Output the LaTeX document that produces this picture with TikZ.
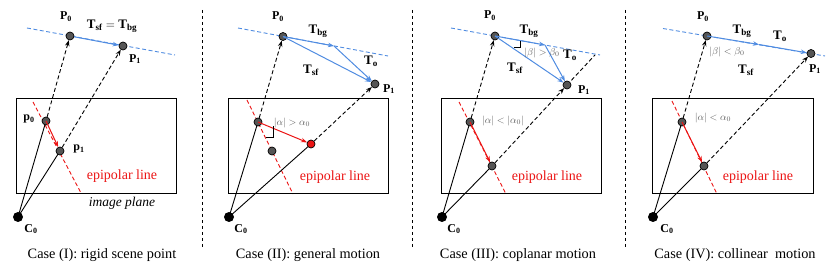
\documentclass[tikz,border=0pt]{standalone}
\usepackage{fontspec}
\setmainfont{Liberation Serif}
\usetikzlibrary{arrows.meta}
\pgfdeclarelayer{bg}
\pgfsetlayers{bg,main}
\definecolor{ptgray}{RGB}{85,85,85}
\definecolor{bl}{RGB}{80,140,225}
\definecolor{rd}{RGB}{235,20,20}
\definecolor{lbl}{RGB}{95,95,95}
\tikzset{
  pt/.style={circle,draw=black,fill=ptgray,inner sep=0pt,minimum size=8pt,line width=0.7pt},
  redpt/.style={circle,draw=black,fill=rd,inner sep=0pt,minimum size=8pt,line width=0.7pt},
  cam/.style={circle,fill=black,inner sep=0pt,minimum size=10pt},
  ray/.style={draw=black,line width=0.9pt},
  back/.style={draw=black,line width=0.9pt,dash pattern=on 4pt off 2.5pt,-{Stealth[length=6pt,width=4.5pt]}},
  backx/.style={draw=black,line width=0.9pt,dash pattern=on 4pt off 2.5pt},
  epi/.style={draw=rd,line width=0.9pt,dash pattern=on 4pt off 2.5pt},
  flow/.style={draw=rd,line width=1pt,-{Stealth[length=6pt,width=4.5pt]}},
  blu/.style={draw=bl,line width=1pt,-{Stealth[length=6pt,width=4.5pt]}},
  bludash/.style={draw=bl,line width=0.9pt,dash pattern=on 4pt off 2.5pt},
  plane/.style={draw=black,line width=0.9pt},
  sep/.style={draw=black,line width=0.9pt,dash pattern=on 3.5pt off 2.5pt},
  lab/.style={inner sep=0pt,font=\fontsize{12}{12}\selectfont},
  tlab/.style={inner sep=0pt,font=\fontsize{13}{13}\selectfont},
  glab/.style={inner sep=0pt,text=lbl,font=\fontsize{10}{10}\selectfont},
  epitxt/.style={inner sep=0pt,text=rd,font=\fontsize{14}{14}\selectfont},
  captxt/.style={inner sep=0pt,font=\fontsize{14.3}{14.3}\selectfont},
}
\begin{document}
\begin{tikzpicture}[x=1pt,y=-1pt]
\useasboundingbox (0,0) rectangle (831,267);
% separators
\coordinate (s1a) at (202,10); \coordinate (s1b) at (202,247);
\coordinate (s2a) at (412,10); \coordinate (s2b) at (412,247);
\coordinate (s3a) at (625,10); \coordinate (s3b) at (625,247);
\draw[sep] (s1a) -- (s1b);
\draw[sep] (s2a) -- (s2b);
\draw[sep] (s3a) -- (s3b);

%%%%%%%% Panel I
\node[plane,minimum width=160pt,minimum height=95pt,inner sep=0pt] (imgA) at (96,145.5) {};
\coordinate (bA1) at (27,28); \coordinate (bA2) at (175,55);
\coordinate (eA1) at (33,102); \coordinate (eA2) at (81,193);
\node[pt] (P0a) at (70,36) {};
\node[pt] (P1a) at (123,46) {};
\node[pt] (p0a) at (46,121) {};
\node[pt] (p1a) at (60,151) {};
\node[cam] (Ca) at (18,217) {};
\begin{pgfonlayer}{bg}
\draw[bludash] (bA1) -- (bA2);
\draw[epi] (eA1) -- (eA2);
\draw[ray] (Ca.center) -- (p0a.center);
\draw[ray] (Ca.center) -- (p1a.center);
\end{pgfonlayer}
\draw[back] (p0a) -- (P0a);
\draw[back] (p1a) -- (P1a);
\draw[blu] (P0a) -- (P1a);
\draw[flow] (p0a.center) -- (p1a);
\node[lab] (lP0a) at (66,17) {$\mathbf{P_0}$};
\node[tlab] (lTa) at (112,26) {$\mathbf{T_{sf}}=\mathbf{T_{bg}}$};
\node[lab] (lP1a) at (135,59) {$\mathbf{P_1}$};
\node[lab] (lp0a) at (29,119) {$\mathbf{p_0}$};
\node[lab] (lp1a) at (79,149) {$\mathbf{p_1}$};
\node[lab] (lCa) at (31,229) {$\mathbf{C_0}$};
\node[epitxt] (epA) at (122,176) {epipolar line};
\node[inner sep=0pt,font=\fontsize{13.5}{13.5}\selectfont\itshape] (ipA) at (122,203) {image plane};
\node[captxt] (capA) at (102,255) {Case (I): rigid scene point};

%%%%%%%% Panel II
\node[plane,minimum width=160pt,minimum height=95pt,inner sep=0pt] (imgB) at (308,145.5) {};
\coordinate (bB1) at (238,28); \coordinate (bB2) at (388,56);
\coordinate (eB1) at (247,100); \coordinate (eB2) at (293,194);
\coordinate (kB) at (334,46);
\coordinate (mB1) at (266,137); \coordinate (mB2) at (273,137); \coordinate (mB3) at (273,126);
\node[pt] (P0b) at (283,36.5) {};
\node[pt] (P1b) at (375,84) {};
\node[pt] (p0b) at (258,122) {};
\node[pt] (p1b) at (272,151) {};
\node[redpt] (rb) at (311,144) {};
\node[cam] (Cb) at (229,217) {};
\begin{pgfonlayer}{bg}
\draw[bludash] (bB1) -- (bB2);
\draw[epi] (eB1) -- (eB2);
\draw[ray] (Cb.center) -- (p0b.center);
\draw[ray] (Cb.center) -- (rb.center);
\end{pgfonlayer}
\draw[back] (p0b) -- (P0b);
\draw[back] (rb) -- (P1b);
\draw[blu] (P0b.center) -- (kB);
\draw[blu] (kB) -- (P1b);
\draw[blu] (P0b.center) -- (P1b);
\draw[flow] (p0b.center) -- (rb);
\draw[draw=black,line width=0.6pt] (mB1) -- (mB2) -- (mB3);
\node[lab] (lP0b) at (278,17) {$\mathbf{P_0}$};
\node[tlab] (lTbgb) at (318,31) {$\mathbf{T_{bg}}$};
\node[tlab] (lTsfb) at (311,70) {$\mathbf{T_{sf}}$};
\node[tlab] (lTob) at (371,61) {$\mathbf{T_{o}}$};
\node[lab] (lP1b) at (389,89) {$\mathbf{P_1}$};
\node[lab] (lCb) at (241,229) {$\mathbf{C_0}$};
\node[glab] (lab) at (292,123) {$|\alpha|>\alpha_0$};
\node[epitxt] (epB) at (335,177) {epipolar line};
\node[captxt] (capB) at (308,255) {Case (II): general motion};

%%%%%%%% Panel III
\node[plane,minimum width=160pt,minimum height=95pt,inner sep=0pt] (imgC) at (521,145.5) {};
\coordinate (bC1) at (451,28); \coordinate (bC2) at (600,55);
\coordinate (eC1) at (459,102); \coordinate (eC2) at (506,194);
\coordinate (kC) at (545,45);
\coordinate (xC) at (595,55);
\coordinate (mC1) at (514,47.5); \coordinate (mC2) at (520,47.5); \coordinate (mC3) at (520,41);
\node[pt] (P0c) at (495,36) {};
\node[pt] (P1c) at (567,85) {};
\node[pt] (p0c) at (470,122) {};
\node[pt] (p1c) at (492,166) {};
\node[cam] (Cc) at (442,217) {};
\begin{pgfonlayer}{bg}
\draw[bludash] (bC1) -- (bC2);
\draw[epi] (eC1) -- (eC2);
\draw[ray] (Cc.center) -- (p0c.center);
\draw[ray] (Cc.center) -- (p1c.center);
\draw[backx] (P1c.center) -- (xC);
\end{pgfonlayer}
\draw[back] (p0c) -- (P0c);
\draw[back] (p1c) -- (P1c);
\draw[blu] (P0c.center) -- (kC);
\draw[blu] (kC) -- (P1c);
\draw[blu] (P0c.center) -- (P1c);
\draw[flow] (p0c.center) -- (p1c);
\draw[draw=black,line width=0.6pt] (mC1) -- (mC2) -- (mC3);
\node[lab] (lP0c) at (490,16) {$\mathbf{P_0}$};
\node[tlab] (lTbgc) at (529,31) {$\mathbf{T_{bg}}$};
\node[tlab] (lTsfc) at (515,68) {$\mathbf{T_{sf}}$};
\node[tlab] (lToc) at (570,55) {$\mathbf{T_{o}}$};
\node[glab] (lbc) at (542,53) {$|\beta|>\beta_0$};
\node[lab] (lP1c) at (584,90) {$\mathbf{P_1}$};
\node[lab] (lCc) at (454,229) {$\mathbf{C_0}$};
\node[glab] (lac) at (503,121) {$|\alpha|<|\alpha_0|$};
\node[epitxt] (epC) at (547,177) {epipolar line};
\node[captxt] (capC) at (518,255) {Case (III): coplanar motion};

%%%%%%%% Panel IV
\node[plane,minimum width=161pt,minimum height=95pt,inner sep=0pt] (imgD) at (732.5,145.5) {};
\coordinate (bD1) at (663,28.5); \coordinate (bD2) at (825,56);
\coordinate (eD1) at (672,101); \coordinate (eD2) at (717,194);
\coordinate (kD) at (759,44.5);
\node[pt] (P0d) at (707,36) {};
\node[pt] (P1d) at (811,53.5) {};
\node[pt] (p0d) at (682,122) {};
\node[pt] (p1d) at (704,166) {};
\node[cam] (Cd) at (653,217) {};
\begin{pgfonlayer}{bg}
\draw[bludash] (bD1) -- (bD2);
\draw[epi] (eD1) -- (eD2);
\draw[ray] (Cd.center) -- (p0d.center);
\draw[ray] (Cd.center) -- (p1d.center);
\end{pgfonlayer}
\draw[back] (p0d) -- (P0d);
\draw[back] (p1d) -- (P1d);
\draw[blu] (P0d.center) -- (kD);
\draw[blu] (kD) -- (P1d);
\draw[flow] (p0d.center) -- (p1d);
\node[lab] (lP0d) at (703,17) {$\mathbf{P_0}$};
\node[tlab] (lTbgd) at (742,31) {$\mathbf{T_{bg}}$};
\node[tlab] (lTod) at (780,36) {$\mathbf{T_{o}}$};
\node[tlab] (lTsfd) at (746,70) {$\mathbf{T_{sf}}$};
\node[glab] (lbd) at (727,52) {$|\beta|<\beta_0$};
\node[lab] (lP1d) at (815,69) {$\mathbf{P_1}$};
\node[lab] (lCd) at (667,229) {$\mathbf{C_0}$};
\node[glab] (lad) at (713,118) {$|\alpha|<\alpha_0$};
\node[epitxt] (epD) at (758,177) {epipolar line};
\node[captxt] (capD) at (735,255) {Case (IV): collinear\ \ motion};
\end{tikzpicture}
\end{document}
